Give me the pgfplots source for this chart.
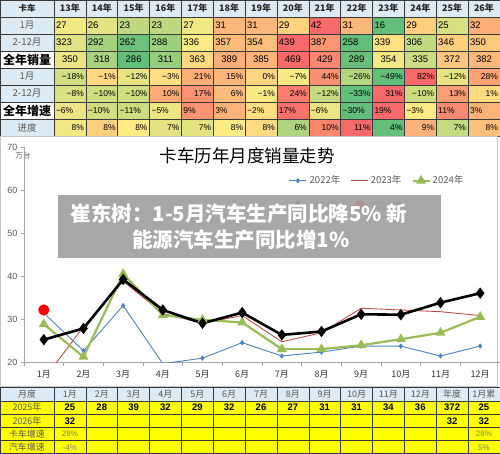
\documentclass[border=0pt]{standalone}
\usepackage{fontspec}
\setmainfont{Noto Sans CJK SC}
\newfontfamily\ls{Liberation Sans}
\usepackage{pgfplots}
\pgfplotsset{compat=1.18}
\definecolor{GreenE}{HTML}{63BE7B}
\definecolor{YellowE}{HTML}{FFEB84}
\definecolor{RedE}{HTML}{F8696B}
\definecolor{HdrBlue}{HTML}{DDEBF7}
\definecolor{c22}{HTML}{4F81BD}
\definecolor{c23}{HTML}{C0504D}
\definecolor{c24}{HTML}{9BBB59}
\definecolor{txtgray}{HTML}{595959}
\definecolor{gridc}{HTML}{3A3A3A}
\definecolor{YelB}{HTML}{FFFF00}
\def\cw{31.85}
\tikzset{num/.style={font=\ls\fontsize{9.5}{11}\selectfont, inner sep=1pt, text=black},
         pct/.style={font=\ls\fontsize{8.5}{10}\selectfont, inner sep=1pt, text=black}}
% heat cell: #1 col, #2 top y, #3 value, #4 text, #5 align, #6 style
\newcommand\hc[6]{%
  \pgfmathtruncatemacro\pa{min(100,max(0,((#3)-(\rmin))/((\rmid)-(\rmin))*100))}%
  \pgfmathsetmacro\fb{min(1,max(0.0001,((#3)-(\rmid))/((\rmax)-(\rmid))))}%
  \pgfmathtruncatemacro\pb{pow(\fb,0.6)*100}%
  \colorlet{tmpc}{YellowE!\pa!GreenE}%
  \colorlet{cellc}{RedE!\pb!tmpc}%
  \pgfmathsetmacro\xl{54+(#1)*\cw}%
  \fill[cellc] (\xl,#2) rectangle +(\cw,17);
  \if l#5\node[#6,anchor=west] at (\xl+0.8,#2+8.5) {#4};\fi
  \if r#5\node[#6,anchor=east] at (\xl+\cw-0.8,#2+8.5) {#4};\fi
  \if c#5\node[#6] at (\xl+\cw/2,#2+8.5) {#4};\fi
}
\begin{document}
\begin{tikzpicture}
\useasboundingbox (0,0) rectangle (500pt,-454pt);
\begin{scope}[x=1pt,y=-1pt]
\fill[white] (0,0) rectangle (500,454);
% ---------- top table ----------
\fill[HdrBlue] (0,0) rectangle (500,17);
\fill[HdrBlue] (0,17) rectangle (54,51);
\fill[HdrBlue] (0,68) rectangle (54,102);
\fill[HdrBlue] (0,119) rectangle (54,136);
% row 1: 1月
\def\rmin{16}\def\rmid{28}\def\rmax{42}
\foreach \v [count=\i from 0] in {27,26,23,23,27,31,31,29,42,31,16,29,25,32}
  {\hc{\i}{17}{\v}{\v}{l}{num}}
% row 2: 2-12月
\def\rmin{258}\def\rmid{337.5}\def\rmax{439}
\foreach \v [count=\i from 0] in {323,292,262,288,336,357,354,439,387,258,339,306,346,350}
  {\hc{\i}{34}{\v}{\v}{l}{num}}
% row 3: 全年销量
\def\rmin{286}\def\rmid{358.5}\def\rmax{469}
\foreach \v [count=\i from 0] in {350,318,286,311,363,389,385,469,429,289,354,335,372,382}
  {\hc{\i}{51}{\v}{\v}{c}{num}}
% row 4: 1月 growth
\def\rmin{-49}\def\rmid{-5}\def\rmax{82}
\foreach \v [count=\i from 0] in {-18,-1,-12,-3,21,15,0,-7,44,-26,-49,82,-12,28}
  {\pgfmathtruncatemacro\av{abs(\v)}\hc{\i}{68}{\v}{\ifnum\v<0 −\fi\av\%}{r}{pct}}
% row 5: 2-12月 growth
\def\rmin{-33}\def\rmid{0}\def\rmax{31}
\foreach \v [count=\i from 0] in {-8,-10,-10,10,17,6,-1,24,-12,-33,31,-10,13,1}
  {\pgfmathtruncatemacro\av{abs(\v)}\hc{\i}{85}{\v}{\ifnum\v<0 −\fi\av\%}{r}{pct}}
% row 6: 全年增速
\def\rmin{-30}\def\rmid{-2.5}\def\rmax{19}
\foreach \v [count=\i from 0] in {-6,-10,-11,-5,9,3,-2,17,-6,-30,19,-3,11,3}
  {\pgfmathtruncatemacro\av{abs(\v)}\hc{\i}{102}{\v}{\ifnum\v<0 −\fi\av\%}{l}{pct}}
% row 7: 进度
\def\rmin{4.5}\def\rmid{8.0}\def\rmax{10.7}
\foreach \v/\t [count=\i from 0] in {7.7/8,8.2/8,8.0/8,7.4/7,7.4/7,8.0/8,8.1/8,6.2/6,9.8/10,10.7/11,4.5/4,8.7/9,6.7/7,8.4/8}
  {\hc{\i}{119}{\v}{\t\%}{r}{pct}}
% grid
\draw[gridc, line width=0.5pt] (0,0) -- (0,136);
\foreach \y in {0,17,34,51,68,85,102,119,136} {\draw[gridc, line width=0.5pt] (0,\y) -- (500,\y);}
\foreach \i in {0,...,14} {\draw[gridc, line width=0.5pt] ({54+\i*\cw},0) -- ({54+\i*\cw},136);}
% first column texts
\node[font=\bfseries\fontsize{8.5}{10}\selectfont, text=black!85] at (27,8.5) {卡车};
\node[font=\fontsize{9.5}{11}\selectfont, text=txtgray] at (27,25.5) {1月};
\node[font=\fontsize{9.5}{11}\selectfont, text=txtgray] at (27,42.5) {2-12月};
\node[font=\bfseries\fontsize{12}{13}\selectfont, text=black] at (27,59.5) {全年销量};
\node[font=\fontsize{9.5}{11}\selectfont, text=txtgray] at (27,76.5) {1月};
\node[font=\fontsize{9.5}{11}\selectfont, text=txtgray] at (27,93.5) {2-12月};
\node[font=\bfseries\fontsize{12}{13}\selectfont, text=black] at (27,110.5) {全年增速};
\node[font=\fontsize{9.5}{11}\selectfont, text=txtgray] at (27,127.5) {进度};
\foreach \y [count=\i from 0] in {13,...,26}
  {\node[font=\bfseries\fontsize{9}{10}\selectfont, text=black!85] at ({54+\i*\cw+\cw/2},8.5) {\y 年};}
% ---------- chart frame ----------
\draw[gray!45, line width=0.6pt] (0.3,136) rectangle (497.5,386.5);
\node[font=\fontsize{17.5}{19}\selectfont, text=black] at (247,156) {卡车历年月度销量走势};
\node[font=\fontsize{7.5}{8}\selectfont, text=txtgray] at (23,156) {万台};
% ---------- bottom table ----------
\fill[HdrBlue] (0,387.5) rectangle (500,400.8);
\fill[YelB] (0,400.8) rectangle (500,454);
\foreach \y in {387.5,400.8,414.1,427.4,440.7,453.7} {\draw[gridc, line width=0.5pt] (0,\y) -- (500,\y);}
\draw[gridc, line width=0.5pt] (0.3,387.5) -- (0.3,454);
\foreach \i in {0,...,14} {\draw[gridc, line width=0.5pt] ({54+\i*\cw},387.5) -- ({54+\i*\cw},454);}
\foreach \t [count=\i from 0] in {1月,2月,3月,4月,5月,6月,7月,8月,9月,10月,11月,12月,年度,1月累}
  {\node[font=\fontsize{9}{10}\selectfont, text=txtgray, inner sep=0pt] at ({54+\i*\cw+\cw/2},394.2) {\t};}
\node[font=\fontsize{9}{10}\selectfont, text=txtgray, inner sep=0pt] at (27,394.2) {月度};
\node[font=\fontsize{9}{10}\selectfont, text=txtgray, inner sep=0pt] at (27,407.5) {2025年};
\node[font=\fontsize{9}{10}\selectfont, text=txtgray, inner sep=0pt] at (27,420.8) {2026年};
\node[font=\fontsize{9}{10}\selectfont, text=txtgray, inner sep=0pt] at (27,434.1) {卡车增速};
\node[font=\fontsize{9}{10}\selectfont, text=txtgray, inner sep=0pt] at (27,447.3) {汽车增速};
\foreach \t [count=\i from 0] in {25,28,39,32,29,32,26,27,31,31,34,36,372,25}
  {\node[font=\ls\bfseries\fontsize{9.5}{10}\selectfont, inner sep=0pt] at ({54+\i*\cw+\cw/2},407.5) {\t};}
\foreach \i in {0,12,13}
  {\node[font=\ls\bfseries\fontsize{9.5}{10}\selectfont, inner sep=0pt] at ({54+\i*\cw+\cw/2},420.8) {32};}
\node[font=\ls\fontsize{8}{9}\selectfont, text=gray, inner sep=0pt] at ({54+0.5*\cw},434.1) {28\%};
\node[font=\ls\fontsize{8}{9}\selectfont, text=gray, inner sep=0pt] at ({54+13.5*\cw},434.1) {28\%};
\node[font=\ls\fontsize{8}{9}\selectfont, text=gray, inner sep=0pt] at ({54+0.5*\cw},447.3) {-4\%};
\node[font=\ls\fontsize{8}{9}\selectfont, text=gray, inner sep=0pt] at ({54+13.5*\cw},447.3) {5\%};
\end{scope}
% ---------- chart ----------
\begin{pgfinterruptboundingbox}
\begin{axis}[
  at={(24pt,-362pt)}, anchor=south west,
  scale only axis, width=476pt, height=215pt,
  xmin=0.5, xmax=12.5, ymin=20, ymax=70,
  axis x line*=bottom, axis y line*=left,
  axis line style={draw=gray!70, line width=0.6pt},
  xtick={1,...,12},
  xticklabels={1月,2月,3月,4月,5月,6月,7月,8月,9月,10月,11月,12月},
  minor xtick={0.5,1.5,...,12.5},
  every major x tick/.append style={draw=none},
  ytick={20,30,...,70},
  tick align=outside,
  major tick length=3pt, minor tick length=4pt,
  tick style={gray!70, line width=0.6pt},
  /pgf/number format/assume math mode=true,
  xticklabel style={font=\fontsize{9}{10}\selectfont, text=black!80, yshift=-2pt},
  yticklabel style={font=\ls\fontsize{9}{10}\selectfont, text=txtgray},
  clip=true,
  legend columns=3,
  legend style={at={(0.548,0.885)}, anchor=north west, draw=none, fill=none,
    font=\fontsize{9.5}{11}\selectfont, text=txtgray, row sep=12pt,
    /tikz/every even column/.append style={column sep=8pt}},
  legend cell align=left,
]
\addplot[c22, line width=0.9pt, mark=diamond*, mark size=2pt] coordinates
 {(1,31.4)(2,22.6)(3,33.1)(4,19.6)(5,20.9)(6,24.5)(7,21.4)(8,22.3)(9,23.7)(10,23.7)(11,21.4)(12,23.7)};
\addlegendentry{2022年}
\addplot[c23, line width=0.9pt, mark=none] coordinates
 {(1,16)(2,28.2)(3,38.8)(4,31.3)(5,29.0)(6,30.8)(7,24.7)(8,26.8)(9,32.5)(10,32.1)(11,31.7)(12,30.8)};
\addlegendentry{2023年}
\addplot[c24, line width=2.2pt, mark=triangle*, mark size=3.6pt] coordinates
 {(1,28.8)(2,21.2)(3,40.5)(4,30.9)(5,29.8)(6,29.2)(7,23.0)(8,23.0)(9,23.9)(10,25.3)(11,26.8)(12,30.5)};
\addlegendentry{2024年}
\addplot[black, line width=2.6pt, mark=diamond*, mark size=3.6pt] coordinates
 {(1,25.2)(2,27.8)(3,39.2)(4,32.1)(5,29.0)(6,31.5)(7,26.3)(8,27.1)(9,31.1)(10,31.0)(11,33.8)(12,36.0)};
\addlegendentry{2025年}
\addplot[red!85!black, line width=1.5pt, mark=*, mark size=4.8pt, mark options={red, draw=red}] coordinates {(1,32.1)};
\addlegendentry{2026年}
\end{axis}
\end{pgfinterruptboundingbox}
% ---------- banner ----------
\begin{scope}[x=1pt,y=-1pt]
\fill[fill=black!37, fill opacity=0.93] (58,195) rectangle (441,258);
\node[font=\bfseries\fontsize{20.5}{22}\selectfont, text=white] at (239,214) {崔东树：1-5月汽车生产同比降5\% 新};
\node[font=\bfseries\fontsize{20.5}{22}\selectfont, text=white] at (241,240) {能源汽车生产同比增1\%};
\end{scope}
\end{tikzpicture}
\end{document}
